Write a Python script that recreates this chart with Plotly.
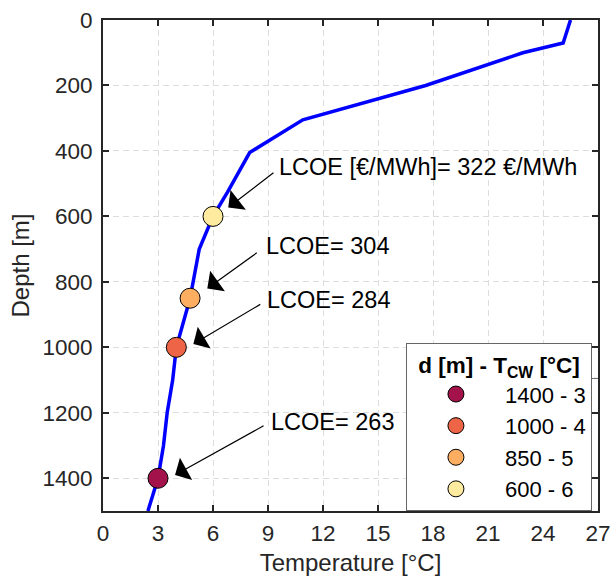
import plotly.graph_objects as go

# Temperature profile (depth in m, temperature in °C)
profile_depth = [0, 70, 100, 200, 305, 405, 525, 600, 700, 850, 1000, 1100, 1200, 1300, 1400, 1500]
profile_temp = [25.5, 25.1, 22.9, 17.6, 10.9, 8.0, 6.8, 6.0, 5.25, 4.75, 4.0, 3.8, 3.5, 3.3, 3.0, 2.45]

# Cold-water intake points
intake_depth = [1400, 1000, 850, 600]
intake_temp = [3.0, 4.0, 4.75, 6.0]
intake_labels = ["1400 - 3", "1000 - 4", "850 - 5", "600 - 6"]
intake_colors = ["#A3124A", "#EE6446", "#FDAE61", "#FEEBA0"]

# LCOE annotations
lcoe_text = ["LCOE [€/MWh]= 322 €/MWh", "LCOE= 304", "LCOE= 284", "LCOE= 263"]

FONT = "Liberation Sans, Arial, Helvetica, sans-serif"
DARK = "#262626"

fig = go.Figure()
fig.add_trace(go.Scatter(x=profile_temp, y=profile_depth, mode="lines",
                         line=dict(color="#0000FF", width=3.5), showlegend=False,
                         hoverinfo="skip"))
for t, d, lab, c in zip(intake_temp, intake_depth, intake_labels, intake_colors):
    fig.add_trace(go.Scatter(x=[t], y=[d], mode="markers", name=lab,
                             marker=dict(size=20, color=c, line=dict(color="black", width=1))))

# annotation geometry (tip, tail, text position) in data units
tips = [(6.83, 573), (5.69, 820), (4.93, 990), (3.93, 1390)]
tails = [(9.38, 463), (8.47, 708), (8.66, 866), (8.84, 1237)]
texts = [(9.5, 449), (8.8, 690), (8.85, 855), (9.05, 1228)]

annotations = []
for (tx, ty), (ax, ay), (px, py), s in zip(tips, tails, texts, lcoe_text):
    annotations.append(dict(x=tx, y=ty, ax=ax, ay=ay, xref="x", yref="y", axref="x", ayref="y",
                            text="", showarrow=True, arrowhead=1, arrowsize=3.5, arrowwidth=1.2,
                            arrowcolor="black", standoff=0, startstandoff=0))
    annotations.append(dict(x=px, y=py, xref="x", yref="y", text=s, showarrow=False,
                            xanchor="left", yanchor="middle",
                            font=dict(family=FONT, size=23.5, color="black")))

axis_common = dict(showline=True, linecolor=DARK, linewidth=2, mirror="ticks",
                   ticks="inside", ticklen=6, tickwidth=1.5, tickcolor=DARK,
                   showgrid=True, gridcolor="#DDDDDD", griddash="6px,4px", gridwidth=1,
                   zeroline=False, automargin=False, ticklabeloverflow="allow",
                   tickfont=dict(family=FONT, size=22.5, color=DARK))

fig.update_layout(
    width=610, height=576,
    margin=dict(l=103, r=12, t=20, b=65),
    paper_bgcolor="white", plot_bgcolor="white",
    font=dict(family=FONT, color=DARK),
    xaxis=dict(range=[0, 27], tickvals=list(range(0, 28, 3)),
               title=dict(text="Temperature [°C]", font=dict(family=FONT, size=24, color=DARK), standoff=12),
               ticklabelstandoff=1, **axis_common),
    yaxis=dict(range=[1500, 0], tickvals=list(range(0, 1500, 200)),
               title=dict(text="Depth [m]", font=dict(family=FONT, size=24, color=DARK), standoff=6),
               ticklabelstandoff=4, **axis_common),
    legend=dict(x=0.612, y=0, xanchor="left", yanchor="bottom",
                bgcolor="white", bordercolor="#666666", borderwidth=1,
                itemwidth=88, tracegroupgap=0,
                font=dict(family=FONT, size=22, color="black"),
                title=dict(text="<b>d [m] - T<sub>CW</sub> [°C]</b>", side="top center",
                           font=dict(family=FONT, size=22.5, color="black"))),
    annotations=annotations,
    shapes=[dict(type="line", xref="paper", yref="paper", x0=0.612, x1=1.0, y0=0.27, y1=0.27,
                 line=dict(color="#666666", width=1))],
    showlegend=True,
)

fig.write_html("out.html")
